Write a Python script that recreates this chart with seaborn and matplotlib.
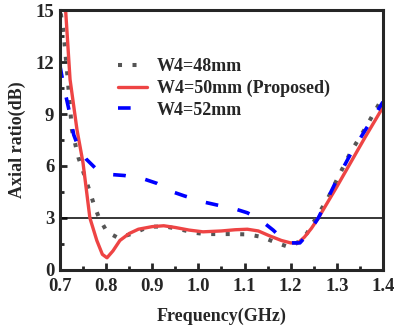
import matplotlib
matplotlib.use("Agg")
import matplotlib.pyplot as plt
from matplotlib.ticker import MultipleLocator
import pandas as pd
import seaborn as sns

# W4 = 48 mm (grey dotted)
freq_48 = [0.702, 0.708, 0.717, 0.726, 0.74, 0.754, 0.776, 0.785, 0.802, 0.826, 0.858, 0.88,
           0.9, 0.93, 0.96, 0.99, 1.015, 1.05, 1.076, 1.108, 1.138, 1.166, 1.195, 1.205,
           1.22, 1.235, 1.255, 1.28, 1.3, 1.33, 1.36, 1.394, 1.4]
ar_48 = [14.8, 13.7, 11.0, 8.1, 6.5, 5.4, 3.6, 3.0, 2.2, 1.85, 2.1, 2.35,
         2.5, 2.5, 2.35, 2.15, 2.07, 2.07, 2.07, 2.05, 1.9, 1.6, 1.33, 1.38,
         1.7, 2.1, 3.0, 4.1, 5.2, 6.8, 8.1, 9.7, 9.95]

# W4 = 50 mm, proposed (red solid)
freq_50 = [0.71, 0.722, 0.737, 0.75, 0.765, 0.78, 0.792, 0.802, 0.815, 0.83, 0.85, 0.87,
           0.9, 0.925, 0.95, 0.98, 1.01, 1.05, 1.08, 1.106, 1.13, 1.155, 1.18, 1.2,
           1.216, 1.23, 1.245, 1.26, 1.28, 1.3, 1.33, 1.36, 1.4]
ar_50 = [16.0, 11.0, 8.1, 6.2, 3.0, 1.7, 0.9, 0.7, 1.1, 1.7, 2.1, 2.35,
         2.5, 2.55, 2.45, 2.3, 2.2, 2.25, 2.32, 2.35, 2.25, 1.96, 1.7, 1.56,
         1.56, 1.9, 2.4, 3.0, 3.9, 4.8, 6.2, 7.6, 9.4]

# W4 = 52 mm (blue dashed)
freq_52 = [0.7, 0.71, 0.72, 0.73, 0.74, 0.757, 0.776, 0.8, 0.815, 0.84, 0.882, 0.91,
           0.945, 0.97, 1.015, 1.04, 1.082, 1.106, 1.125, 1.143, 1.162, 1.18, 1.195, 1.22,
           1.235, 1.25, 1.26, 1.28, 1.3, 1.33, 1.36, 1.4]
ar_52 = [11.8, 10.4, 9.2, 7.8, 7.1, 6.4, 5.9, 5.6, 5.5, 5.45, 5.25, 5.0,
         4.5, 4.27, 3.9, 3.75, 3.5, 3.3, 3.05, 2.7, 2.3, 1.85, 1.56, 1.56,
         2.0, 2.6, 3.0, 4.1, 5.2, 6.7, 8.0, 9.7]

labels = ["W4=48mm", "W4=50mm (Proposed)", "W4=52mm"]
x_ticks = [0.7, 0.8, 0.9, 1.0, 1.1, 1.2, 1.3, 1.4]
y_ticks = [0, 3, 6, 9, 12, 15]

sns.set_style("ticks")
plt.rcParams['font.family'] = ['Liberation Serif', 'DejaVu Serif']
plt.rcParams['font.weight'] = 'bold'
plt.rcParams['axes.labelweight'] = 'bold'

fig = plt.figure(figsize=(3.94, 3.26), dpi=100)
ax = fig.add_axes([0.152, 0.172, 0.82, 0.797])

ax.axhline(3, color='black', lw=1.1, zorder=1)

sns.lineplot(x=freq_48, y=ar_48, ax=ax, color='#555555', lw=2.9, label=labels[0],
             linestyle=(0, (1, 2.6)), sort=False)
sns.lineplot(x=freq_50, y=ar_50, ax=ax, color='#EE4444', lw=2.4, label=labels[1], sort=False)
sns.lineplot(x=freq_52, y=ar_52, ax=ax, color='#0000FF', lw=2.6, label=labels[2],
             linestyle=(0, (3.5, 5.5)), sort=False)

ax.set_xlim(0.7, 1.4)
ax.set_ylim(0, 15)
ax.set_xticks(x_ticks)
ax.set_xticklabels([f"{t:.1f}" for t in x_ticks])
ax.set_yticks(y_ticks)
ax.xaxis.set_minor_locator(MultipleLocator(0.05))
ax.yaxis.set_minor_locator(MultipleLocator(1.5))
ax.tick_params(which='major', direction='in', length=5, width=2, labelsize=13.5)
ax.tick_params(axis='x', which='major', pad=6)
ax.tick_params(axis='y', which='major', pad=4)
ax.tick_params(which='minor', direction='in', length=3, width=2)
for s in ax.spines.values():
    s.set_linewidth(2.2)

ax.set_xlabel("Frequency(GHz)", fontsize=13, fontweight='bold', labelpad=9)
ax.set_ylabel("Axial ratio(dB)", fontsize=13, fontweight='bold', labelpad=7)

leg = ax.legend(loc='upper left', bbox_to_anchor=(0.18, 0.815), frameon=False,
                borderaxespad=0, borderpad=0, handlelength=1.6, handletextpad=0.55,
                labelspacing=0.25, prop={'size': 13, 'weight': 'bold'})

fig.savefig("out.png", dpi=100)
